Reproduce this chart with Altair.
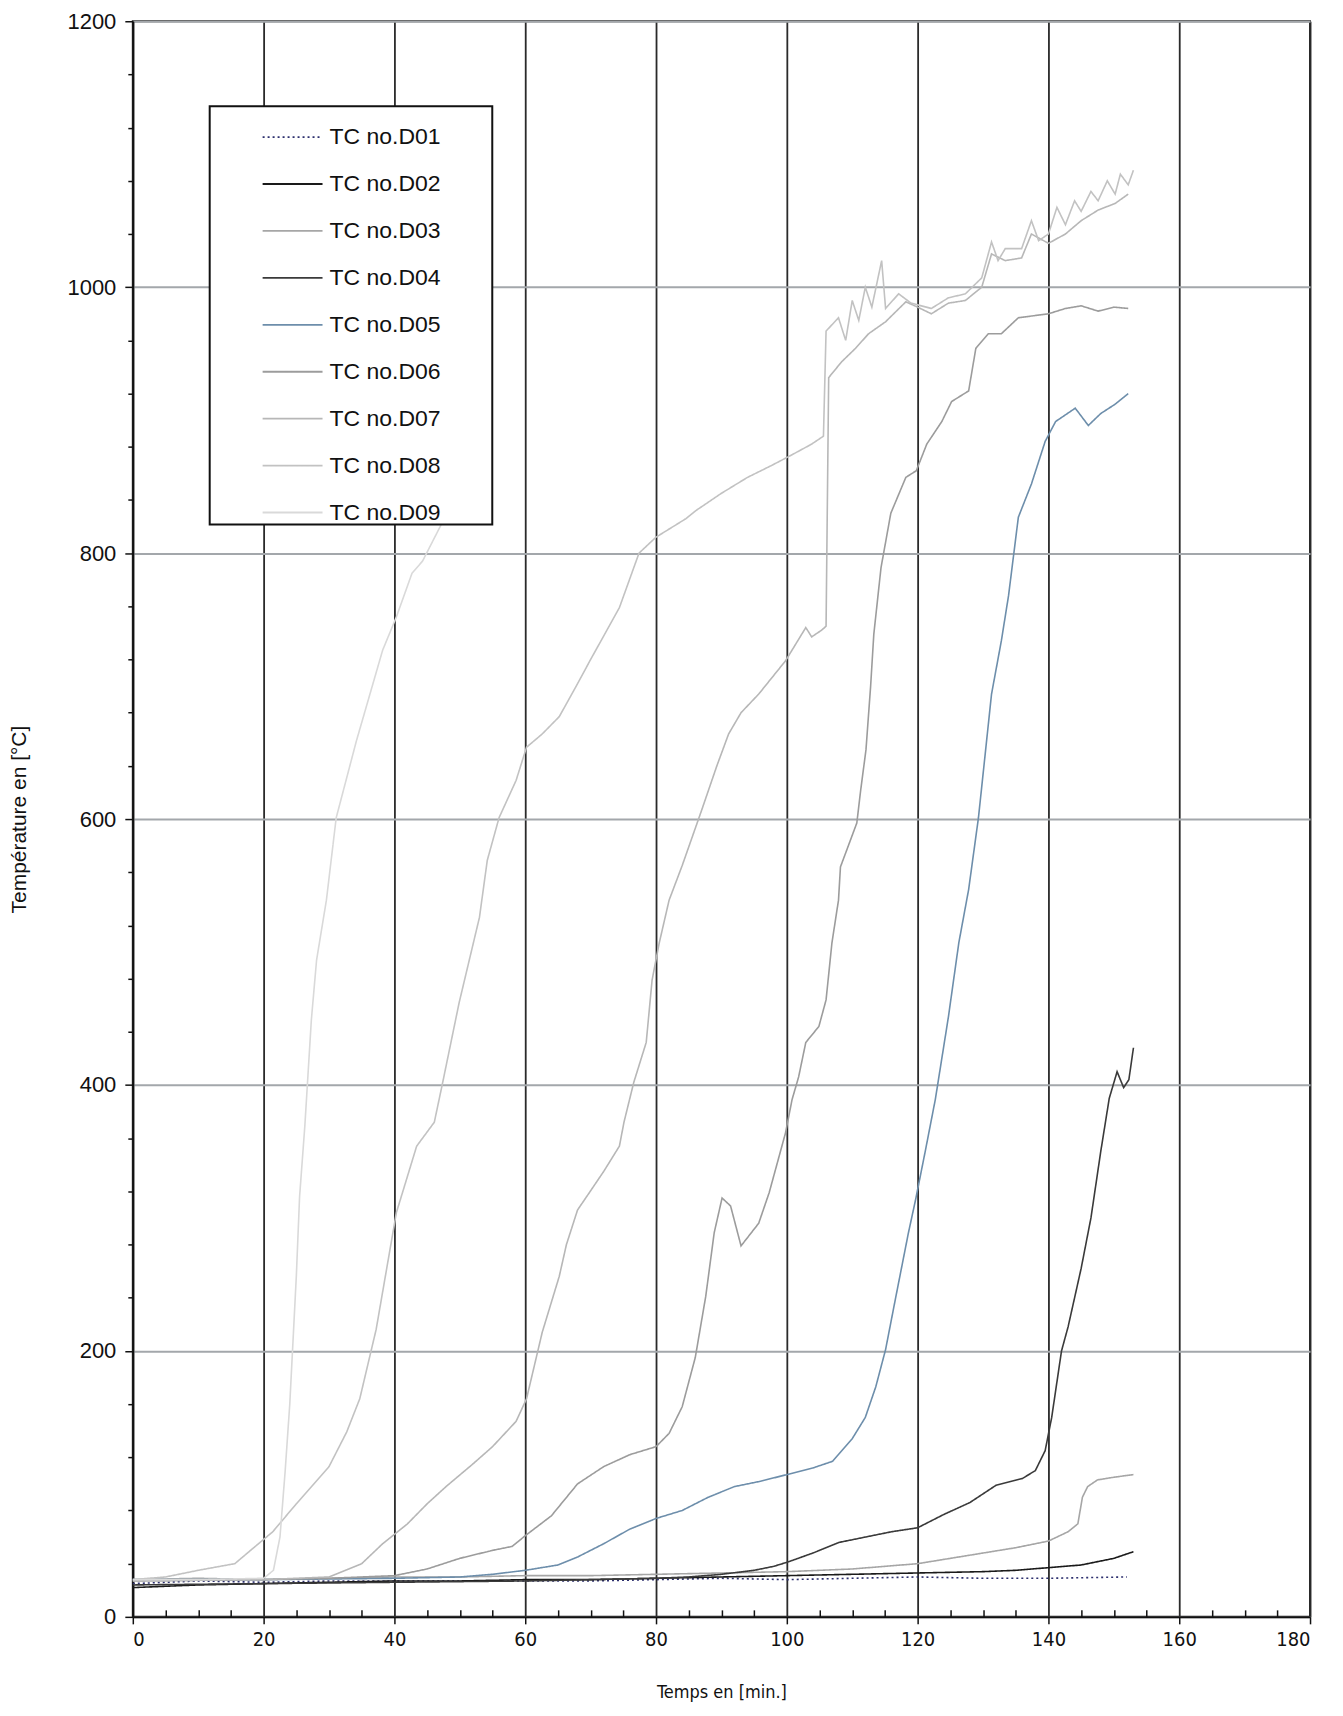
import altair as alt
import pandas as pd

series_names = ["TC no.D01", "TC no.D02", "TC no.D03", "TC no.D04", "TC no.D05",
                "TC no.D06", "TC no.D07", "TC no.D08", "TC no.D09"]
series_colors = ["#2c2f6e", "#1a1a1a", "#a6a6a6", "#3a3a3a", "#6d8eab",
                 "#9c9c9c", "#b7b7b7", "#c2c2c2", "#d9d9d9"]
series_dashes = [[2, 3], [1, 0], [1, 0], [1, 0], [1, 0], [1, 0], [1, 0], [1, 0], [1, 0]]

d01_t = [0, 10, 20, 30, 40, 50, 60, 70, 80, 90, 100, 110, 120, 130, 140, 152]
d01_v = [25, 27, 26, 27, 27, 27, 27, 27, 28, 29, 28, 29, 30, 29, 29, 30]

d02_t = [0, 10, 20, 30, 40, 50, 60, 70, 80, 90, 100, 110, 120, 130, 135, 140, 145, 150, 153]
d02_v = [22, 24, 25, 26, 27, 27, 28, 28, 29, 30, 31, 32, 33, 34, 35, 37, 39, 44, 49]

d03_t = [0, 10, 20, 30, 40, 50, 60, 70, 80, 90, 100, 110, 115, 120, 125, 130, 135, 140,
         143, 144.5, 145.2, 146, 147.5, 150, 153]
d03_v = [28, 29, 28, 29, 30, 30, 31, 31, 32, 33, 34, 36, 38, 40, 44, 48, 52, 57,
         64, 70, 90, 98, 103, 105, 107]

d04_t = [0, 20, 40, 60, 70, 80, 85, 90, 95, 98, 100, 104, 108, 112, 116, 120, 124, 128,
         132, 136, 138, 139.5, 140.5, 142, 143, 145, 146.5, 148, 149.3, 150.5, 151.5, 152.3, 153]
d04_v = [24, 25, 26, 27, 28, 29, 30, 32, 35, 38, 41, 48, 56, 60, 64, 67, 77, 86,
         99, 104, 110, 125, 150, 200, 218, 262, 300, 350, 390, 410, 398, 404, 428]

d05_t = [0, 20, 40, 50, 55, 60, 65, 68, 72, 76, 80, 84, 88, 92, 96, 100, 104, 107, 110,
         112, 113.6, 115.1, 116.6, 118.6, 119.7, 121.2, 122.7, 124.7, 126.3, 127.8, 129.3,
         131.3, 132.8, 133.9, 135.4, 137.4, 139.5, 141.1, 144.1, 146.1, 148, 150.2, 152.2]
d05_v = [28, 28, 29, 30, 32, 35, 39, 45, 55, 66, 74, 80, 90, 98, 102, 107, 112, 117, 134,
         150, 173, 201, 239, 289, 314, 351, 389, 451, 507, 547, 601,
         694, 734, 768, 827, 852, 884, 899, 909, 896, 905, 912, 920]

d06_t = [0, 20, 30, 40, 45, 50, 55, 58, 60, 64, 68, 72, 76, 80, 82, 84, 86, 87.6, 88.9,
         90.1, 91.4, 93, 95.7, 97.3, 99.8, 100.8, 101.8, 102.9, 104.9, 106, 106.9, 107.9,
         108.2, 110.7, 111.3, 112.1, 112.8, 113.3, 114.4, 115.9, 118.2, 119.8, 121.4, 123.7,
         125.2, 127.8, 128.9, 130.8, 132.8, 135.4, 140, 142.6, 145, 147.6, 150, 152.2]
d06_v = [27, 28, 29, 31, 36, 44, 50, 53, 61, 76, 100, 113, 122, 128, 138, 158, 195, 241, 289,
         315, 309, 279, 296, 319, 364, 389, 406, 432, 444, 464, 507, 539,
         564, 597, 622, 652, 699, 739, 789, 830, 857, 862, 882, 899,
         914, 922, 954, 965, 965, 977, 980, 984, 986, 982, 985, 984]

d07_t = [0, 20, 30, 35, 38.2, 42, 45, 47.9, 52, 55, 58.6, 60.2, 62.6, 65.2, 66.3, 68, 69.8,
         72, 74.4, 75.1, 76.6, 78.5, 79.4, 80.5, 82, 84, 87, 89.3, 91.1, 93, 95.7, 99.8,
         102.9, 103.8, 105.3, 106, 106.4, 108.4, 110.5, 112.5, 115.1, 118.2, 120, 122.1,
         124.7, 127.3, 129.8, 131.3, 133.4, 135.9, 137.4, 140, 142.6, 145, 147.6, 150.2, 152.2]
d07_v = [27, 28, 30, 40, 55, 70, 85, 98, 115, 128, 147, 164, 214, 256, 280, 306, 319,
         335, 354, 372, 402, 432, 479, 507, 539, 565, 607, 640, 664, 680, 694, 719,
         744, 737, 742, 745, 932, 944, 954, 965, 974, 989, 985, 980,
         988, 990, 1000, 1025, 1020, 1022, 1040, 1033, 1040, 1050, 1058, 1063, 1070]

d08_t = [0, 5, 10, 15.6, 18, 21.4, 25, 30, 32.7, 34.7, 37.2, 40.3, 43.4, 46.1, 47.3, 49.9,
         53, 54.2, 56, 58.6, 60.2, 62.6, 65.2, 67.8, 70, 74.4, 77.4, 80, 84.6, 86.1, 90, 94,
         97.7, 100.8, 103.8, 105.6, 106, 107.9, 109, 110, 111, 112, 113, 114.5, 115.1,
         117.1, 119, 122.1, 124.7, 127.3, 129.8, 131.3, 132.3, 133.4, 135.9, 137.4, 138.5,
         140, 141.3, 142.6, 144, 145, 146.5, 147.6, 149, 150.2, 151, 152.2, 153]
d08_v = [28, 30, 35, 40, 50, 64, 85, 113, 139, 164, 216, 304, 354, 372, 400, 462,
         526, 569, 601, 629, 654, 664, 677, 700, 720, 759, 800, 812, 826, 832, 845, 857,
         866, 874, 882, 888, 967, 977, 960, 990, 975, 1000, 985, 1020, 984,
         995, 988, 984, 992, 995, 1007, 1034, 1020, 1029, 1029, 1050, 1035,
         1040, 1060, 1047, 1065, 1057, 1072, 1065, 1080, 1070, 1085, 1077, 1088]

d09_t = [0, 10, 20, 21.5, 22.5, 23.3, 24, 25, 25.5, 26.3, 27.3, 28.1, 29.6, 31.1, 34.2,
         38.2, 40.3, 42.7, 44.3, 47, 50]
d09_v = [28, 28, 29, 35, 60, 110, 160, 256, 316, 369, 449, 494, 539, 601, 659,
         727, 752, 785, 794, 820, 850]

x_ticks = [0, 20, 40, 60, 80, 100, 120, 140, 160, 180]
x_minor = [5, 10, 15, 25, 30, 35, 45, 50, 55, 65, 70, 75, 85, 90, 95, 105, 110, 115,
           125, 130, 135, 145, 150, 155, 165, 170, 175]
y_ticks = [0, 40, 80, 120, 160, 200, 240, 280, 320, 360, 400, 440, 480, 520, 560, 600,
           640, 680, 720, 760, 800, 840, 880, 920, 960, 1000, 1040, 1080, 1120, 1160, 1200]

all_t = [d01_t, d02_t, d03_t, d04_t, d05_t, d06_t, d07_t, d08_t, d09_t]
all_v = [d01_v, d02_v, d03_v, d04_v, d05_v, d06_v, d07_v, d08_v, d09_v]

rows = []
for name, ts, vs in zip(series_names, all_t, all_v):
    for t, v in zip(ts, vs):
        rows.append({"series": name, "t": t, "v": v})
df = pd.DataFrame(rows)

NARROW = "Liberation Sans Narrow, DejaVu Sans Condensed, Liberation Sans, sans-serif"
SANS = "Liberation Sans, Arial, sans-serif"

x_scale = alt.Scale(domain=[0, 180], nice=False, zero=False)
y_scale = alt.Scale(domain=[0, 1200], nice=False)

PAD = "\u2800" * 3
legend_common = dict(
    orient="none", legendX=77, legendY=85, title=None,
    symbolType="stroke", symbolSize=3600, symbolStrokeWidth=1.8,
    labelFont=SANS, labelFontSize=23, labelColor="#111111", labelOffset=6,
    labelLimit=400,
    padding=0, symbolOffset=52, rowPadding=4,
    strokeColor="#111111", fillColor="#ffffff",
    labelExpr="datum.label + '" + PAD + "'",
)

lines = alt.Chart(df).mark_line(strokeWidth=1.6).encode(
    x=alt.X("t:Q", scale=x_scale, axis=alt.Axis(
        values=x_ticks, grid=True, gridColor="#2a2a2a", gridWidth=1.8,
        tickSize=7, tickColor="#111111", tickWidth=1.5,
        domainColor="#111111", domainWidth=2,
        labelFont=NARROW, labelFontSize=20, labelColor="#111111", labelPadding=6,
        title="Temps en [min.]", titleFont=NARROW, titleFontSize=18,
        titleFontWeight="normal", titleColor="#111111", titleY=76, titleBaseline="middle")),
    y=alt.Y("v:Q", scale=y_scale, axis=alt.Axis(
        values=y_ticks, grid=True, gridColor="#a3a7ab", gridWidth=2,
        gridOpacity={"condition": {"test": "datum.value % 200 === 0", "value": 1}, "value": 0},
        tickSize={"condition": {"test": "datum.value % 200 === 0", "value": 8}, "value": 5},
        tickColor="#111111", tickWidth=1.5,
        domainColor="#111111", domainWidth=2,
        labelExpr="datum.value % 200 === 0 ? datum.label : ''",
        labelFont=SANS, labelFontSize=22, labelColor="#111111", labelPadding=9,
        format="d",
        title="Température  en [°C]", titleFont=SANS, titleFontSize=21,
        titleFontWeight="normal", titleColor="#111111",
        titleX=-113, titleBaseline="middle")),
    color=alt.Color("series:N", scale=alt.Scale(domain=series_names, range=series_colors),
                    legend=alt.Legend(**legend_common)),
    strokeDash=alt.StrokeDash("series:N", scale=alt.Scale(domain=series_names, range=series_dashes),
                              legend=alt.Legend(**legend_common)),
    order=alt.Order("t:Q"),
)

minor = alt.Chart(df).mark_point(opacity=0).encode(
    x=alt.X("t:Q", scale=x_scale, axis=alt.Axis(
        values=x_minor, orient="bottom", offset=-7, grid=False, domain=False,
        labels=False, tickSize=7, tickColor="#111111", tickWidth=1.5, title=None)),
    y=alt.Y("v:Q", scale=y_scale, axis=None),
)

chart = alt.layer(lines, minor).resolve_axis(x="independent", y="independent").properties(
    width=1179, height=1598,
    autosize=alt.AutoSizeParams(type="none"),
    padding={"left": 125, "top": 12, "right": 25, "bottom": 90},
    background="#ffffff",
).configure_view(stroke="#222222", strokeWidth=2).configure_legend(strokeWidth=2)

chart.save("out.html", embed_options={"renderer": "svg", "actions": False})
